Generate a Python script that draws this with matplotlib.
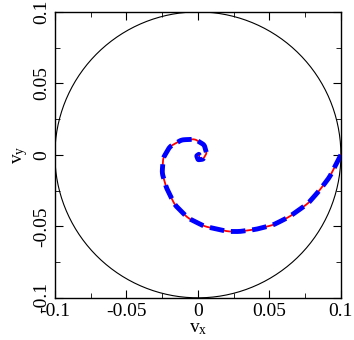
import numpy as np
import matplotlib
matplotlib.use("Agg")
import matplotlib.pyplot as plt
from matplotlib.ticker import MultipleLocator

# spiral
vx = [0.1, 0.0923, 0.0853, 0.0772, 0.0643, 0.0527, 0.0410, 0.0294, 0.0212,
      0.0049, -0.0068, -0.0161, -0.0219, -0.0250, -0.0243, -0.0196, -0.0114,
      -0.0021, 0.0044, 0.0061, 0.0037, 0.0002, -0.0009, 0.0007, 0.0010]
vy = [0.0, -0.0152, -0.0245, -0.0338, -0.0431, -0.0490, -0.0520, -0.0536, -0.0536,
      -0.0501, -0.0443, -0.0350, -0.0233, -0.0128, -0.0023, 0.0058, 0.0105,
      0.0110, 0.0070, 0.0012, -0.0030, -0.0035, -0.0007, 0.0005, -0.0003]
radius = 0.1
ticks = [-0.1, -0.05, 0, 0.05, 0.1]
tick_labels = ['-0.1', '-0.05', '0', '0.05', '0.1']

plt.rcParams['font.family'] = ['Liberation Serif', 'DejaVu Serif']
plt.rcParams['mathtext.fontset'] = 'custom'
plt.rcParams['mathtext.rm'] = 'Liberation Serif'
plt.rcParams['mathtext.it'] = 'Liberation Serif'

# smooth the traced points a bit
t = np.arange(len(vx))
ts = np.linspace(0, len(vx) - 1, 400)
xs = np.interp(ts, t, vx)
ys = np.interp(ts, t, vy)
k = np.ones(7) / 7
xs = np.concatenate([xs[:3], np.convolve(xs, k, mode='valid'), xs[-3:]])
ys = np.concatenate([ys[:3], np.convolve(ys, k, mode='valid'), ys[-3:]])

fig = plt.figure(figsize=(3.54, 3.40), dpi=100)
ax = fig.add_axes([0.155, 0.124, 0.808, 0.841])

th = np.linspace(0, 2 * np.pi, 400)
ax.plot(radius * np.cos(th), radius * np.sin(th), color='black', lw=0.8)
ax.plot(xs, ys, color='red', lw=1.3)
ax.plot(xs, ys, color='blue', lw=3.5, dashes=(3.0, 1.4))

ax.set_xlim(-0.1, 0.1)
ax.set_ylim(-0.1, 0.1)
ax.set_xticks(ticks)
ax.set_xticklabels(tick_labels)
ax.set_yticks(ticks)
ax.set_yticklabels(tick_labels, rotation=90, va='center')
ax.xaxis.set_minor_locator(MultipleLocator(0.025))
ax.yaxis.set_minor_locator(MultipleLocator(0.025))
ax.tick_params(which='both', direction='in', top=True, right=True, labelsize=14)
ax.tick_params(which='major', length=6)
ax.tick_params(which='minor', length=3.5)
for s in ax.spines.values():
    s.set_linewidth(1.0)

ax.set_xlabel(r'$\mathrm{v}_\mathrm{x}$', fontsize=14, labelpad=0)
ax.set_ylabel(r'$\mathrm{v}_\mathrm{y}$', fontsize=14, labelpad=2)

fig.savefig('out.png', dpi=100)
